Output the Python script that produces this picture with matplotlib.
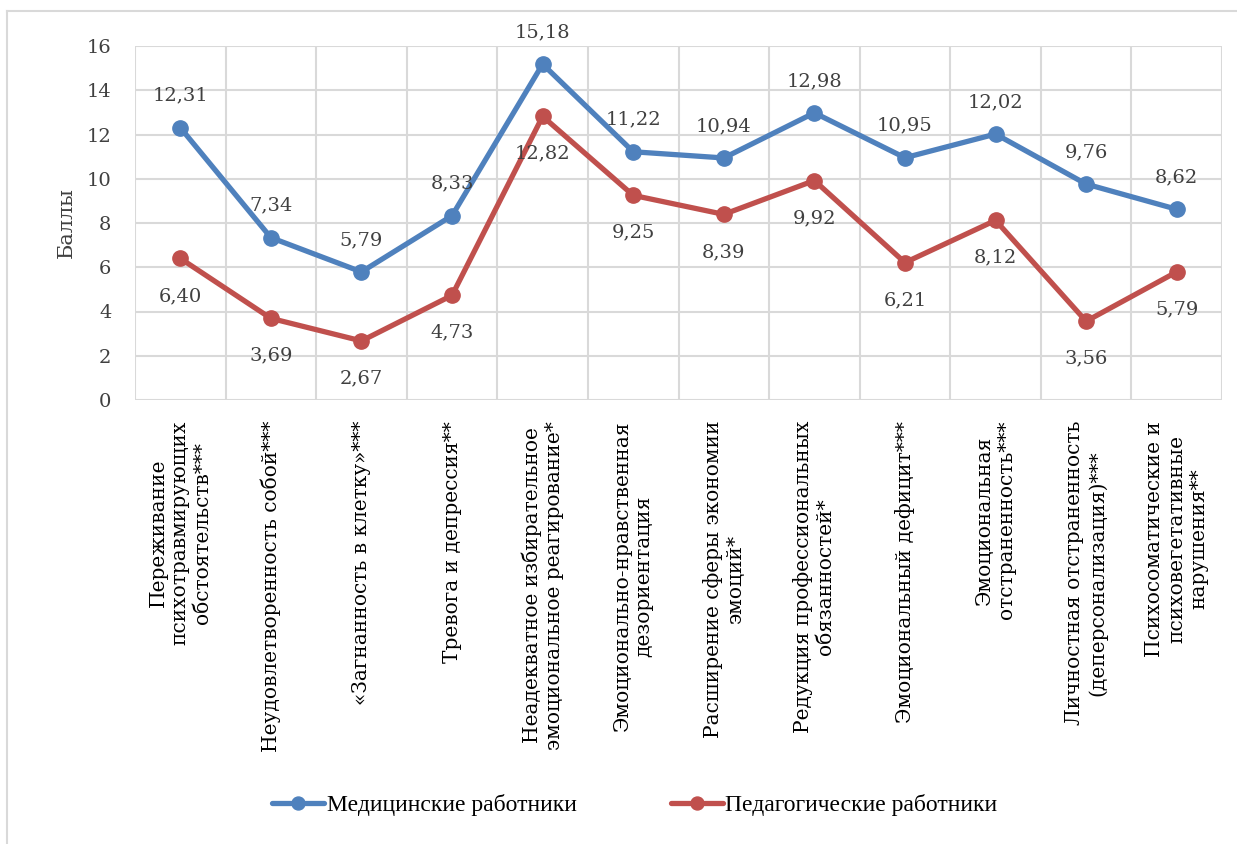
import matplotlib
matplotlib.use('Agg')
import matplotlib.pyplot as plt
import numpy as np
from matplotlib.lines import Line2D

plt.rcParams['font.family'] = ['DejaVu Serif']

categories = [
    'Переживание\nпсихотравмирующих\nобстоятельств***',
    'Неудовлетворенность собой***',
    '«Загнанность в клетку»***',
    'Тревога и депрессия**',
    'Неадекватное избирательное\nэмоциональное реагирование*',
    'Эмоционально-нравственная\nдезориентация',
    'Расширение сферы экономии\nэмоций*',
    'Редукция профессиональных\nобязанностей*',
    'Эмоциональный дефицит***',
    'Эмоциональная\nотстраненность***',
    'Личностная отстраненность\n(деперсонализация)***',
    'Психосоматические и\nпсиховегетативные\nнарушения**',
]
medical = [12.31, 7.34, 5.79, 8.33, 15.18, 11.22, 10.94, 12.98, 10.95, 12.02, 9.76, 8.62]
teachers = [6.40, 3.69, 2.67, 4.73, 12.82, 9.25, 8.39, 9.92, 6.21, 8.12, 3.56, 5.79]
series_names = ['Медицинские работники', 'Педагогические работники']

blue = '#4F81BD'
red = '#C0504D'
grid_c = '#D9D9D9'
txt_c = '#404040'

fig = plt.figure(figsize=[12.37, 8.44], dpi=100)
# outer chart border (only top and left edges are inside the picture)
fig.lines.append(Line2D([7/1237, 7/1237], [0, 1-11/844], transform=fig.transFigure, color=grid_c, linewidth=1.5))
fig.lines.append(Line2D([7/1237, 1], [1-11/844, 1-11/844], transform=fig.transFigure, color=grid_c, linewidth=1.5))

ax = fig.add_axes([135/1237, 1-400/844, (1222-135)/1237, (400-46)/844])

x = np.arange(len(categories))
ax.plot(x, medical, color=blue, linewidth=3.8, marker='o', markersize=11, label=series_names[0],
        solid_capstyle='round', zorder=3)
ax.plot(x, teachers, color=red, linewidth=3.8, marker='o', markersize=11, label=series_names[1],
        solid_capstyle='round', zorder=3)

for i in range(len(x)):
    ax.annotate(('%.2f' % medical[i]).replace('.', ','), (x[i], medical[i]), xytext=(0, 23),
                textcoords='offset points', ha='center', va='center', fontsize=14, color=txt_c, zorder=4)
    ax.annotate(('%.2f' % teachers[i]).replace('.', ','), (x[i], teachers[i]), xytext=(0, -27),
                textcoords='offset points', ha='center', va='center', fontsize=14, color=txt_c, zorder=4)

ax.set_xlim(-0.5, len(x) - 0.5)
ax.set_ylim(0, 16)
ax.set_yticks(np.arange(0, 17, 2))
ax.set_xticks(x)
ax.set_xticklabels(categories, rotation=90, fontsize=14.5, ma='center', va='top', ha='center')
ax.set_xticks(np.arange(-0.5, len(x), 1), minor=True)
ax.tick_params(axis='both', which='both', length=0, colors='black')
ax.tick_params(axis='y', labelsize=14, labelcolor=txt_c, pad=17)
ax.tick_params(axis='x', pad=15)
ax.grid(True, which='major', axis='y', color=grid_c, linewidth=1.5)
ax.grid(True, which='minor', axis='x', color=grid_c, linewidth=1.5)
ax.set_axisbelow(True)
for s in ax.spines.values():
    s.set_visible(False)
ax.set_ylabel('Баллы', fontsize=15, color=txt_c, labelpad=8)

fig.legend(loc='center', bbox_to_anchor=(635/1237, 1-805/844), ncol=2, frameon=False,
           prop={'family': 'Liberation Serif', 'size': 17}, handlelength=2.2, handletextpad=0.1,
           columnspacing=4.0, markerscale=0.85)

plt.savefig('out.png', dpi=100)
